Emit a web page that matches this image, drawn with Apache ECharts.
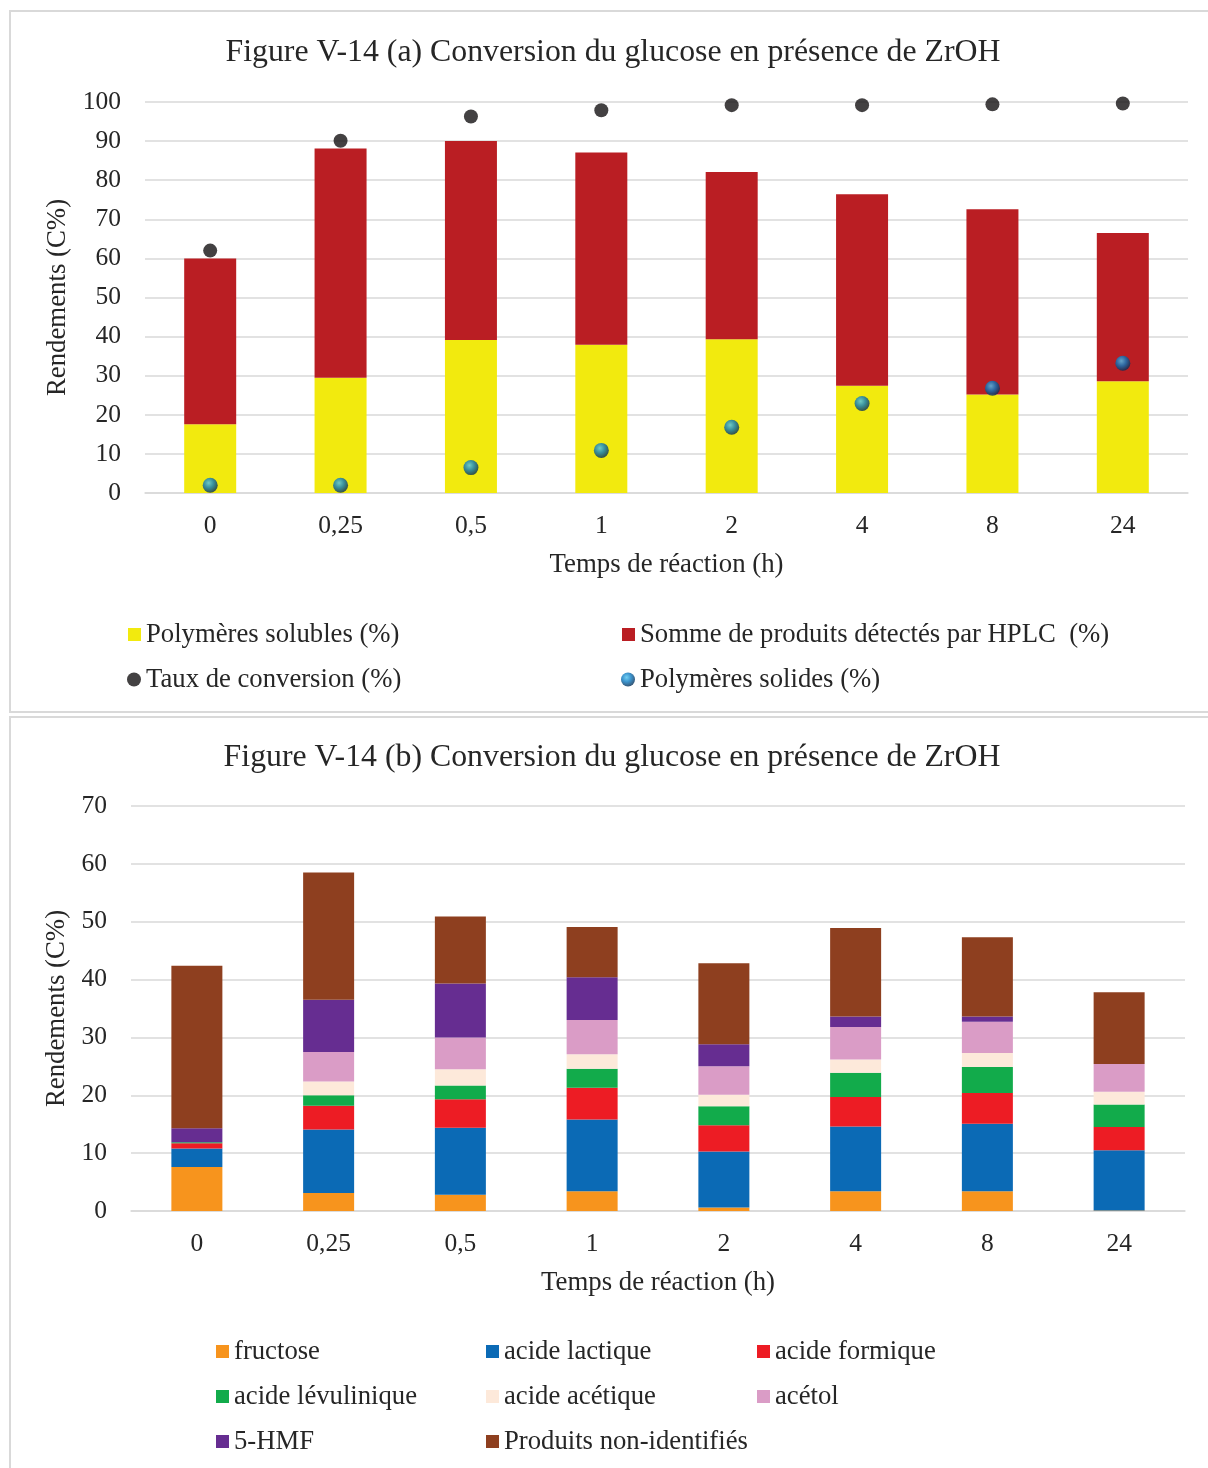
<!DOCTYPE html>
<html>
<head>
<meta charset="utf-8">
<script src="https://cdn.jsdelivr.net/npm/echarts@6/dist/echarts.min.js"></script>
<style>
html,body{margin:0;padding:0;background:#fff;}
#c{width:1208px;height:1468px;}
</style>
</head>
<body>
<div id="c"></div>
<script>
// ---- data ----
const categories = ['0', '0,25', '0,5', '1', '2', '4', '8', '24'];

// Figure (a)
const solublePolymers = [17.6, 29.5, 39.1, 37.9, 39.3, 27.4, 25.2, 28.6];
const hplcProducts    = [42.4, 58.6, 50.9, 49.2, 42.8, 49.0, 47.4, 37.9];
const conversionRate  = [62.0, 90.1, 96.3, 97.9, 99.2, 99.2, 99.4, 99.6];
const solidPolymers   = [2.0, 2.0, 6.5, 10.9, 16.8, 22.9, 26.8, 33.2];

// Figure (b)
const fructose       = [7.6, 3.1, 2.8, 3.4, 0.6, 3.4, 3.4, 0.1];
const lacticAcid     = [3.2, 11.0, 11.6, 12.4, 9.7, 11.2, 11.7, 10.4];
const formicAcid     = [0.9, 4.1, 4.9, 5.5, 4.5, 5.1, 5.3, 4.0];
const levulinicAcid  = [0.2, 1.8, 2.4, 3.3, 3.3, 4.2, 4.5, 3.9];
const aceticAcid     = [0, 2.4, 2.8, 2.5, 2.0, 2.3, 2.4, 2.2];
const acetol         = [0, 5.1, 5.5, 5.9, 4.9, 5.6, 5.4, 4.8];
const hmf            = [2.4, 9.0, 9.3, 7.4, 3.8, 1.8, 0.9, 0];
const nonIdentified  = [28.1, 22.0, 11.6, 8.7, 14.0, 15.3, 13.7, 12.4];

const yTicksA = {min: 0, max: 100, interval: 10};
const yTicksB = {min: 0, max: 70, interval: 10};

// ---- styles ----
const FONT = '"Liberation Serif", "Times New Roman", serif';
const TXT = '#262626';
const GRID_LINE = '#d9d9d9';
const sphere = {
  type: 'radial', x: 0.4, y: 0.35, r: 0.65,
  colorStops: [
    {offset: 0, color: '#4fc3f0'},
    {offset: 0.5, color: '#0a78bf'},
    {offset: 1, color: '#062f57'}
  ]
};

const chart = echarts.init(document.getElementById('c'), null, {renderer: 'canvas'});

function xAxisCfg(gridIndex) {
  return {
    type: 'category', gridIndex, data: categories,
    axisLine: {show: true, lineStyle: {color: GRID_LINE, width: 1.5}},
    axisTick: {show: false},
    axisLabel: {fontFamily: FONT, fontSize: 25.5, color: TXT, margin: 20},
    name: 'Temps de réaction (h)', nameLocation: 'middle', nameGap: 58,
    nameTextStyle: {fontFamily: FONT, fontSize: 26.8, color: TXT}
  };
}
function yAxisCfg(gridIndex, t, gap) {
  return {
    type: 'value', gridIndex, min: t.min, max: t.max, interval: t.interval,
    axisLine: {show: false}, axisTick: {show: false},
    splitLine: {lineStyle: {color: GRID_LINE, width: 1.5}},
    axisLabel: {fontFamily: FONT, fontSize: 25.5, color: TXT, margin: 24},
    name: 'Rendements (C%)', nameLocation: 'middle', nameGap: gap,
    nameTextStyle: {fontFamily: FONT, fontSize: 26.8, color: TXT}
  };
}
const legendText = {fontFamily: FONT, fontSize: 26.7, color: TXT};
function leg(name, icon, left, cy, size) {
  return {
    data: [{name, icon}], left, top: cy - 13, padding: 0,
    itemWidth: size || 13, itemHeight: size || 13, itemGap: 0,
    textStyle: legendText, selectedMode: false
  };
}

const barsB = [
  ['fructose', fructose, '#f7941d'],
  ['acide lactique', lacticAcid, '#0b6ab5'],
  ['acide formique', formicAcid, '#ed1c24'],
  ['acide lévulinique', levulinicAcid, '#12ab4b'],
  ['acide acétique', aceticAcid, '#fde9da'],
  ['acétol', acetol, '#da9cc6'],
  ['5-HMF', hmf, '#662d91'],
  ['Produits non-identifiés', nonIdentified, '#8e3f1f']
];

const option = {
  backgroundColor: '#fff',
  animation: false,
  graphic: [
    {type: 'rect', shape: {x: 10, y: 11, width: 1220, height: 701},
     style: {fill: 'none', stroke: GRID_LINE, lineWidth: 2}},
    {type: 'rect', shape: {x: 10, y: 717, width: 1220, height: 780},
     style: {fill: 'none', stroke: GRID_LINE, lineWidth: 2}}
  ],
  title: [
    {text: 'Figure V-14 (a) Conversion du glucose en présence de ZrOH', left: 608, top: 32, textAlign: 'center',
     textStyle: {fontFamily: FONT, fontSize: 31.8, fontWeight: 'normal', color: TXT}},
    {text: 'Figure V-14 (b) Conversion du glucose en présence de ZrOH', left: 607, top: 737, textAlign: 'center',
     textStyle: {fontFamily: FONT, fontSize: 31.8, fontWeight: 'normal', color: TXT}}
  ],
  grid: [
    {left: 145, top: 102, width: 1043, height: 391},
    {left: 131, top: 806, width: 1054, height: 405}
  ],
  xAxis: [xAxisCfg(0), xAxisCfg(1)],
  yAxis: [yAxisCfg(0, yTicksA, 69), yAxisCfg(1, yTicksB, 55)],
  legend: [
    leg('Polymères solubles (%)', 'rect', 128, 634),
    leg('Somme de produits détectés par HPLC  (%)', 'rect', 622, 634),
    leg('Taux de conversion (%)', 'circle', 127, 679, 14),
    leg('Polymères solides (%)', 'circle', 621, 679, 14),
    leg('fructose', 'rect', 216, 1351),
    leg('acide lactique', 'rect', 486, 1351),
    leg('acide formique', 'rect', 757, 1351),
    leg('acide lévulinique', 'rect', 216, 1396),
    leg('acide acétique', 'rect', 486, 1396),
    leg('acétol', 'rect', 757, 1396),
    leg('5-HMF', 'rect', 216, 1441),
    leg('Produits non-identifiés', 'rect', 486, 1441)
  ],
  series: [
    {name: 'Polymères solubles (%)', type: 'bar', xAxisIndex: 0, yAxisIndex: 0, stack: 'a',
     barWidth: 52, data: solublePolymers, itemStyle: {color: '#f2ea0e'}},
    {name: 'Somme de produits détectés par HPLC  (%)', type: 'bar', xAxisIndex: 0, yAxisIndex: 0, stack: 'a',
     barWidth: 52, data: hplcProducts, itemStyle: {color: '#ba1e23'}},
    {name: 'Taux de conversion (%)', type: 'scatter', xAxisIndex: 0, yAxisIndex: 0,
     symbolSize: 14, data: conversionRate, itemStyle: {color: '#141213'}, z: 5},
    {name: 'Polymères solides (%)', type: 'scatter', xAxisIndex: 0, yAxisIndex: 0,
     symbolSize: 15, data: solidPolymers, itemStyle: {color: sphere}, z: 5},
    ...barsB.map(([name, data, color]) => ({
      name, type: 'bar', xAxisIndex: 1, yAxisIndex: 1, stack: 'b', barWidth: 51, data,
      itemStyle: {color}
    }))
  ]
};
chart.setOption(option);
</script>
</body>
</html>
